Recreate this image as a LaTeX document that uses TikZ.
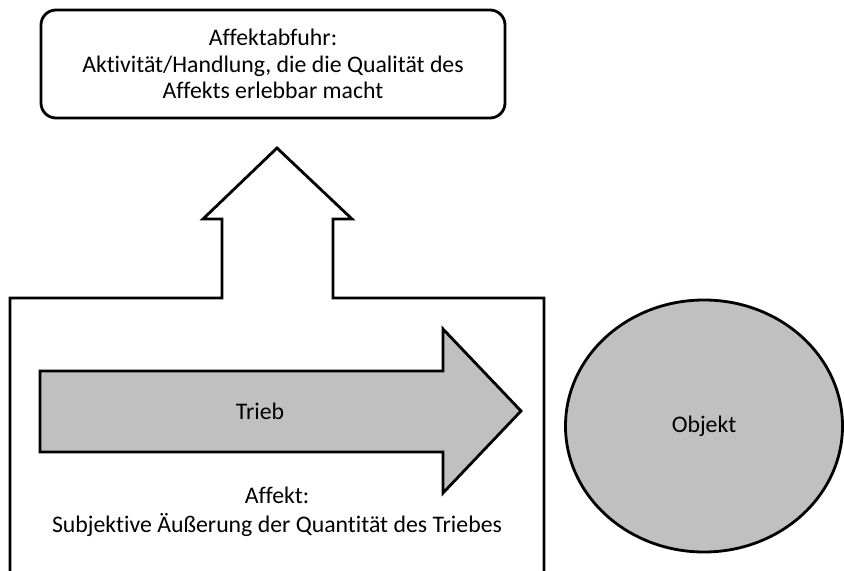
\documentclass[tikz,border=0pt]{standalone}
\usepackage{fontspec}
\setmainfont{Carlito}[RawFeature=-liga]
\usetikzlibrary{positioning,shapes.geometric}
\definecolor{triebgray}{RGB}{192,192,192}
\tikzset{%
	txt/.style      = {align=center, inner sep=0pt, font=\fontsize{20.3}{22.6}\selectfont}, % Text
	abfuhrbox/.style= {draw, rectangle, rounded corners=0.45cm, minimum width=13.92cm, minimum height=3.24cm, txt},
	objekt/.style   = {draw, ellipse, fill=triebgray, minimum width=8.31cm, minimum height=7.56cm, txt},
	outline/.style  = {line width=2.4pt, line join=miter},
}
\begin{document}
\begin{tikzpicture}[x=0.03cm,y=-0.03cm,line width=2.4pt]
	\useasboundingbox (0,0) rectangle (844,571);
	% Affektabfuhr
	\node [abfuhrbox, line width=2.4pt] (abfuhr) at (273,64) {Affektabfuhr:\\Aktivität/Handlung, die die Qualität des\\Affekts erlebbar macht};
	% Subjekt mit Pfeil nach oben
	\draw[outline] (10,600) -- (10,298) -- (222,298) -- (222,219) -- (203,219) -- (277,148)
		-- (352,219) -- (333,219) -- (333,298) -- (544,298) -- (544,600) -- cycle;
	% Trieb
	\draw[outline, fill=triebgray] (40,371) -- (443,371) -- (443,329) -- (521,411)
		-- (443,493) -- (443,452) -- (40,452) -- cycle;
	\node [txt] (trieb) at (260,411) {Trieb};
	\node [txt] (affekt) at (277,512) {Affekt:\\[2pt]Subjektive Äußerung der Quantität des Triebes};
	% Objekt
	\node [objekt, line width=2.4pt] (obj) at (704,426) {Objekt};
\end{tikzpicture}
\end{document}
